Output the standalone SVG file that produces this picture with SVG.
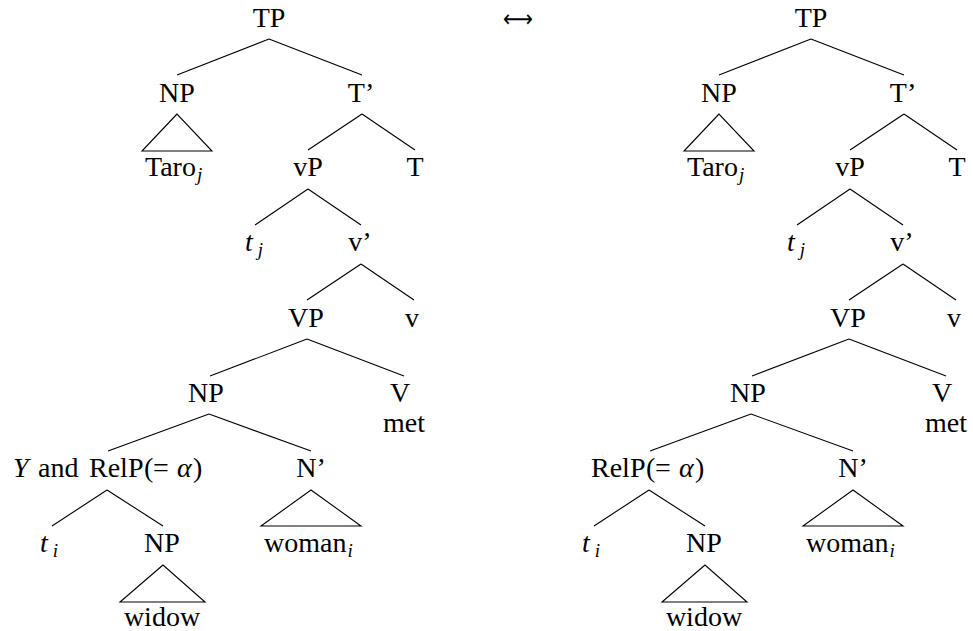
<svg xmlns="http://www.w3.org/2000/svg" width="973" height="631" viewBox="0 0 973 631">
<style>
text{font-family:"Liberation Serif","Times New Roman",serif;font-size:28px;fill:#000}
.m{text-anchor:middle}
.it{font-style:italic}
.sub{font-size:19px;font-style:italic}
line,polygon{stroke:#000;stroke-width:1.1;fill:none}
</style>
<rect width="973" height="631" fill="#fff"/>
<g id="arrow"><text x="503" y="27" textLength="30" lengthAdjust="spacingAndGlyphs" style="font-family:'DejaVu Sans',sans-serif;font-size:24px">⟷</text></g>
<g id="left">
<g id="connectors-left">
<line x1="269" y1="39" x2="177" y2="75"/><line x1="269" y1="39" x2="362" y2="75"/>
<line x1="362" y1="114" x2="308" y2="150"/><line x1="362" y1="114" x2="415" y2="150"/>
<line x1="308" y1="189" x2="255" y2="225"/><line x1="308" y1="189" x2="361" y2="225"/>
<line x1="361" y1="264" x2="307" y2="300"/><line x1="361" y1="264" x2="414" y2="300"/>
<line x1="307" y1="339" x2="210" y2="376"/><line x1="307" y1="339" x2="404" y2="376"/>
<line x1="209" y1="414" x2="108" y2="451"/><line x1="209" y1="414" x2="311" y2="451"/>
<line x1="107" y1="490" x2="52" y2="526"/><line x1="107" y1="490" x2="163" y2="526"/>
<polygon points="177,114 142,151 212,151"/>
<polygon points="311,490 261,526 361,526"/>
<polygon points="163,565 120,602 205,602"/>
</g>
<g id="L-TP"><text x="269" y="27" class="m">TP</text></g>
<g id="L-NP1"><text x="177" y="102" class="m">NP</text></g>
<g id="L-Tbar"><text x="361" y="102" class="m">T’</text></g>
<g id="L-Taro"><text x="145" y="176">Taro<tspan class="sub" dx="1" dy="5">j</tspan></text></g>
<g id="L-vP"><text x="308" y="176" class="m">vP</text></g>
<g id="L-T"><text x="415" y="176" class="m">T</text></g>
<g id="L-tj"><text x="245" y="251" class="it">t<tspan class="sub" dx="5" dy="5">j</tspan></text></g>
<g id="L-vbar"><text x="360" y="251" class="m">v’</text></g>
<g id="L-VP"><text x="306" y="327" class="m">VP</text></g>
<g id="L-v"><text x="412" y="327" class="m">v</text></g>
<g id="L-NP2"><text x="206" y="402" class="m">NP</text></g>
<g id="L-V"><text x="400" y="402" class="m">V</text><text x="404" y="432" class="m">met</text></g>
<g id="L-RelP"><text y="477"><tspan x="13" class="it">Y</tspan><tspan x="38">and</tspan><tspan x="89">RelP</tspan><tspan x="144">(</tspan><tspan x="153">=</tspan><tspan x="177" class="it">α</tspan><tspan x="193">)</tspan></text></g>
<g id="L-Nbar"><text x="311" y="477" class="m">N’</text></g>
<g id="L-ti"><text x="40" y="552" class="it">t<tspan class="sub" dx="5" dy="5">i</tspan></text></g>
<g id="L-NP3"><text x="162" y="552" class="m">NP</text></g>
<g id="L-woman"><text x="264" y="552">woman<tspan class="sub" dx="1" dy="5">i</tspan></text></g>
<g id="L-widow"><text x="162" y="626" class="m">widow</text></g>
</g>
<g id="right" transform="translate(542,0)">
<g id="connectors-right">
<line x1="269" y1="39" x2="177" y2="75"/><line x1="269" y1="39" x2="362" y2="75"/>
<line x1="362" y1="114" x2="308" y2="150"/><line x1="362" y1="114" x2="415" y2="150"/>
<line x1="308" y1="189" x2="255" y2="225"/><line x1="308" y1="189" x2="361" y2="225"/>
<line x1="361" y1="264" x2="307" y2="300"/><line x1="361" y1="264" x2="414" y2="300"/>
<line x1="307" y1="339" x2="210" y2="376"/><line x1="307" y1="339" x2="404" y2="376"/>
<line x1="209" y1="414" x2="108" y2="451"/><line x1="209" y1="414" x2="311" y2="451"/>
<line x1="107" y1="490" x2="52" y2="526"/><line x1="107" y1="490" x2="163" y2="526"/>
<polygon points="177,114 142,151 212,151"/>
<polygon points="311,490 261,526 361,526"/>
<polygon points="163,565 120,602 205,602"/>
</g>
<g id="R-TP"><text x="269" y="27" class="m">TP</text></g>
<g id="R-NP1"><text x="177" y="102" class="m">NP</text></g>
<g id="R-Tbar"><text x="361" y="102" class="m">T’</text></g>
<g id="R-Taro"><text x="145" y="176">Taro<tspan class="sub" dx="1" dy="5">j</tspan></text></g>
<g id="R-vP"><text x="308" y="176" class="m">vP</text></g>
<g id="R-T"><text x="415" y="176" class="m">T</text></g>
<g id="R-tj"><text x="245" y="251" class="it">t<tspan class="sub" dx="5" dy="5">j</tspan></text></g>
<g id="R-vbar"><text x="360" y="251" class="m">v’</text></g>
<g id="R-VP"><text x="306" y="327" class="m">VP</text></g>
<g id="R-v"><text x="412" y="327" class="m">v</text></g>
<g id="R-NP2"><text x="206" y="402" class="m">NP</text></g>
<g id="R-V"><text x="400" y="402" class="m">V</text><text x="404" y="432" class="m">met</text></g>
<g id="R-RelP"><text y="477"><tspan x="49">RelP</tspan><tspan x="104">(</tspan><tspan x="113">=</tspan><tspan x="137" class="it">α</tspan><tspan x="153">)</tspan></text></g>
<g id="R-Nbar"><text x="311" y="477" class="m">N’</text></g>
<g id="R-ti"><text x="40" y="552" class="it">t<tspan class="sub" dx="5" dy="5">i</tspan></text></g>
<g id="R-NP3"><text x="162" y="552" class="m">NP</text></g>
<g id="R-woman"><text x="264" y="552">woman<tspan class="sub" dx="1" dy="5">i</tspan></text></g>
<g id="R-widow"><text x="162" y="626" class="m">widow</text></g>
</g>
</svg>
